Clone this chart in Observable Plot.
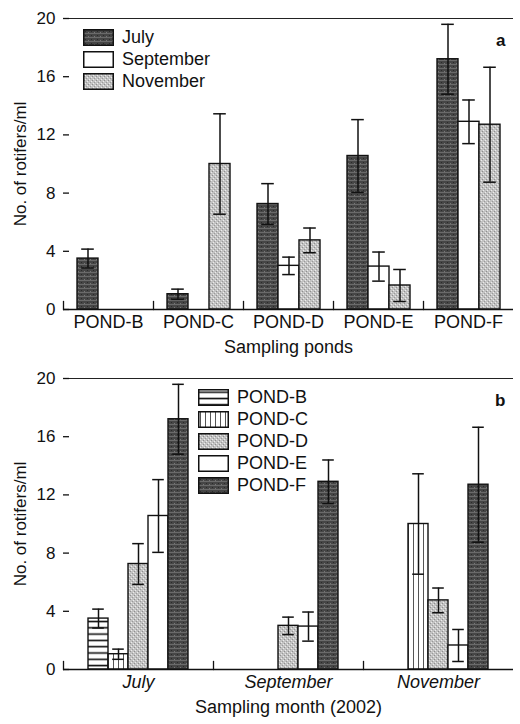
<!DOCTYPE html>
<html><head><meta charset="utf-8">
<script src="https://cdn.jsdelivr.net/npm/d3@7"></script>
<script src="https://cdn.jsdelivr.net/npm/@observablehq/plot@0.6"></script>
<style>
html,body{margin:0;padding:0;background:#fff;}
body{width:520px;height:724px;overflow:hidden;font-family:"Liberation Sans",Arial,Helvetica,sans-serif;color:#111;}
.panel{position:relative;width:520px;}
.panel > svg{display:block;}
.legend{position:absolute;font-size:18px;color:#111;}
.legend .row{display:flex;align-items:center;height:21.8px;}
.legend .row svg{margin-right:8px;flex:none;}
</style></head><body>
<svg width="0" height="0" style="position:absolute">
  <defs>
    <pattern id="pDark" patternUnits="userSpaceOnUse" width="6" height="4">
      <rect width="6" height="4" fill="#464646"/>
      <rect y="0" width="6" height="1" fill="#6a6a6a"/>
      <rect x="2" y="2" width="1" height="1" fill="#2a2a2a"/>
      <rect x="5" y="3" width="1" height="1" fill="#777"/>
    </pattern>
    <pattern id="pLight" patternUnits="userSpaceOnUse" width="4" height="4">
      <rect width="4" height="4" fill="#c2c2c2"/>
      <rect x="0" y="0" width="1" height="1" fill="#ececec"/>
      <rect x="2" y="2" width="1" height="1" fill="#ececec"/>
      <rect x="1" y="3" width="1" height="1" fill="#8f8f8f"/>
      <rect x="3" y="1" width="1" height="1" fill="#9a9a9a"/>
    </pattern>
    <pattern id="pHLines" patternUnits="userSpaceOnUse" width="8" height="6.3">
      <rect width="8" height="6.3" fill="#fff"/>
      <rect y="2.4" width="8" height="1.6" fill="#111"/>
    </pattern>
    <pattern id="pVLines" patternUnits="userSpaceOnUse" width="5" height="8">
      <rect width="5" height="8" fill="#fff"/>
      <rect x="2" width="1" height="8" fill="#555"/>
    </pattern>
  </defs>
</svg>
<div id="panelA" class="panel"></div>
<div id="panelB" class="panel"></div>
<script>
// ---- data ----
const ponds = ["POND-B", "POND-C", "POND-D", "POND-E", "POND-F"];
const months = ["July", "September", "November"];
const julyMean = [3.5, 1.05, 7.25, 10.55, 17.2];
const julyErr  = [0.65, 0.35, 1.4, 2.5, 2.4];
const septMean = [0, 0, 3.0, 2.95, 12.9];
const septErr  = [0, 0, 0.6, 1.0, 1.5];
const novMean  = [0, 10.0, 4.75, 1.65, 12.7];
const novErr   = [0, 3.45, 0.85, 1.1, 3.95];
const yTicks = [0, 4, 8, 12, 16, 20];

const means = [julyMean, septMean, novMean];
const errs = [julyErr, septErr, novErr];
const rows = ponds.flatMap((p, i) => months.map((m, j) => ({
  pond: p, month: m, mean: means[j][i], err: errs[j][i]
}))).filter(d => d.mean > 0);

const monthFills = ["url(#pDark)", "#ffffff", "url(#pLight)"];
const pondFills = ["url(#pHLines)", "url(#pVLines)", "url(#pLight)", "#ffffff", "url(#pDark)"];

const FONT = '"Liberation Sans", Arial, Helvetica, sans-serif';

function panel({fxKey, xKey, fxDomain, xDomain, fills, padOuter, xLabel, italic, tag, height, marginBottom}) {
  return Plot.plot({
    width: 520, height,
    marginTop: 18, marginLeft: 62, marginRight: 7, marginBottom,
    style: {fontFamily: FONT, fontSize: "18px", color: "#111", background: "#fff", overflow: "visible"},
    fx: {domain: fxDomain, paddingInner: 0, paddingOuter: 0, axis: null},
    x: {domain: xDomain, paddingInner: 0, paddingOuter: padOuter, axis: null},
    y: {domain: [0, 20], axis: null},
    color: {domain: xDomain, range: fills},
    marks: [
      Plot.barY(rows, {fx: fxKey, x: xKey, y: "mean", fill: xKey, stroke: "#111", strokeWidth: 1.4}),
      Plot.ruleX(rows, {fx: fxKey, x: xKey, y1: d => d.mean - d.err, y2: d => d.mean + d.err, stroke: "#111", strokeWidth: 1.5}),
      Plot.tickY(rows, {fx: fxKey, x: xKey, y: d => d.mean - d.err, inset: 4.2, stroke: "#111", strokeWidth: 1.5}),
      Plot.tickY(rows, {fx: fxKey, x: xKey, y: d => d.mean + d.err, inset: 4.2, stroke: "#111", strokeWidth: 1.5}),
      Plot.ruleY([0], {stroke: "#111", strokeWidth: 1.6}),
      Plot.ruleY([20], {stroke: "#222", strokeWidth: 1.2}),
      Plot.frame({anchor: "left", insetTop: 283, stroke: "#111", strokeWidth: 1.3}),
      Plot.axisY({
        ticks: yTicks, tickSize: -6, tickPadding: 14, fontSize: 17,
        label: "No. of rotifers/ml", labelAnchor: "center", labelOffset: 50, labelArrow: false,
        line: true, stroke: "#111", strokeWidth: 1.3
      }),
      Plot.axisY({anchor: "right", ticks: [], label: null, line: true, stroke: "#111", strokeWidth: 1.3}),
      Plot.axisFx({anchor: "bottom", tickSize: 0, tickPadding: 6, label: null, fontStyle: italic ? "italic" : "normal"}),
      Plot.axisFx({anchor: "bottom", ticks: [], tickSize: 0, label: xLabel, labelAnchor: "center", labelOffset: 43, labelArrow: false}),
      Plot.text([tag], {fx: () => fxDomain[fxDomain.length - 1], frameAnchor: "top-right", dx: -8, dy: 15, fontWeight: "bold", fontSize: 17, fill: "#111"})
    ]
  });
}

function legend(container, names, fills, left, top) {
  const div = document.createElement("div");
  div.className = "legend";
  div.style.left = left + "px";
  div.style.top = top + "px";
  names.forEach((n, i) => {
    const row = document.createElement("div");
    row.className = "row";
    row.innerHTML = `<svg width="31" height="17"><rect x="0.75" y="0.75" width="29.5" height="15.5" fill="${fills[i]}" stroke="#111" stroke-width="1.5"/></svg><span>${n}</span>`;
    div.appendChild(row);
  });
  container.appendChild(div);
}

const A = document.getElementById("panelA");
A.appendChild(panel({
  fxKey: "pond", xKey: "month", fxDomain: ponds, xDomain: months, fills: monthFills,
  padOuter: 0.61, xLabel: "Sampling ponds", italic: false, tag: "a", height: 360, marginBottom: 51
}));
legend(A, months, monthFills, 83, 27);

const B = document.getElementById("panelB");
B.appendChild(panel({
  fxKey: "month", xKey: "pond", fxDomain: months, xDomain: ponds, fills: pondFills,
  padOuter: 1.1, xLabel: "Sampling month (2002)", italic: true, tag: "b", height: 364, marginBottom: 55
}));
legend(B, ponds, pondFills, 198, 27);
</script>
</body></html>
